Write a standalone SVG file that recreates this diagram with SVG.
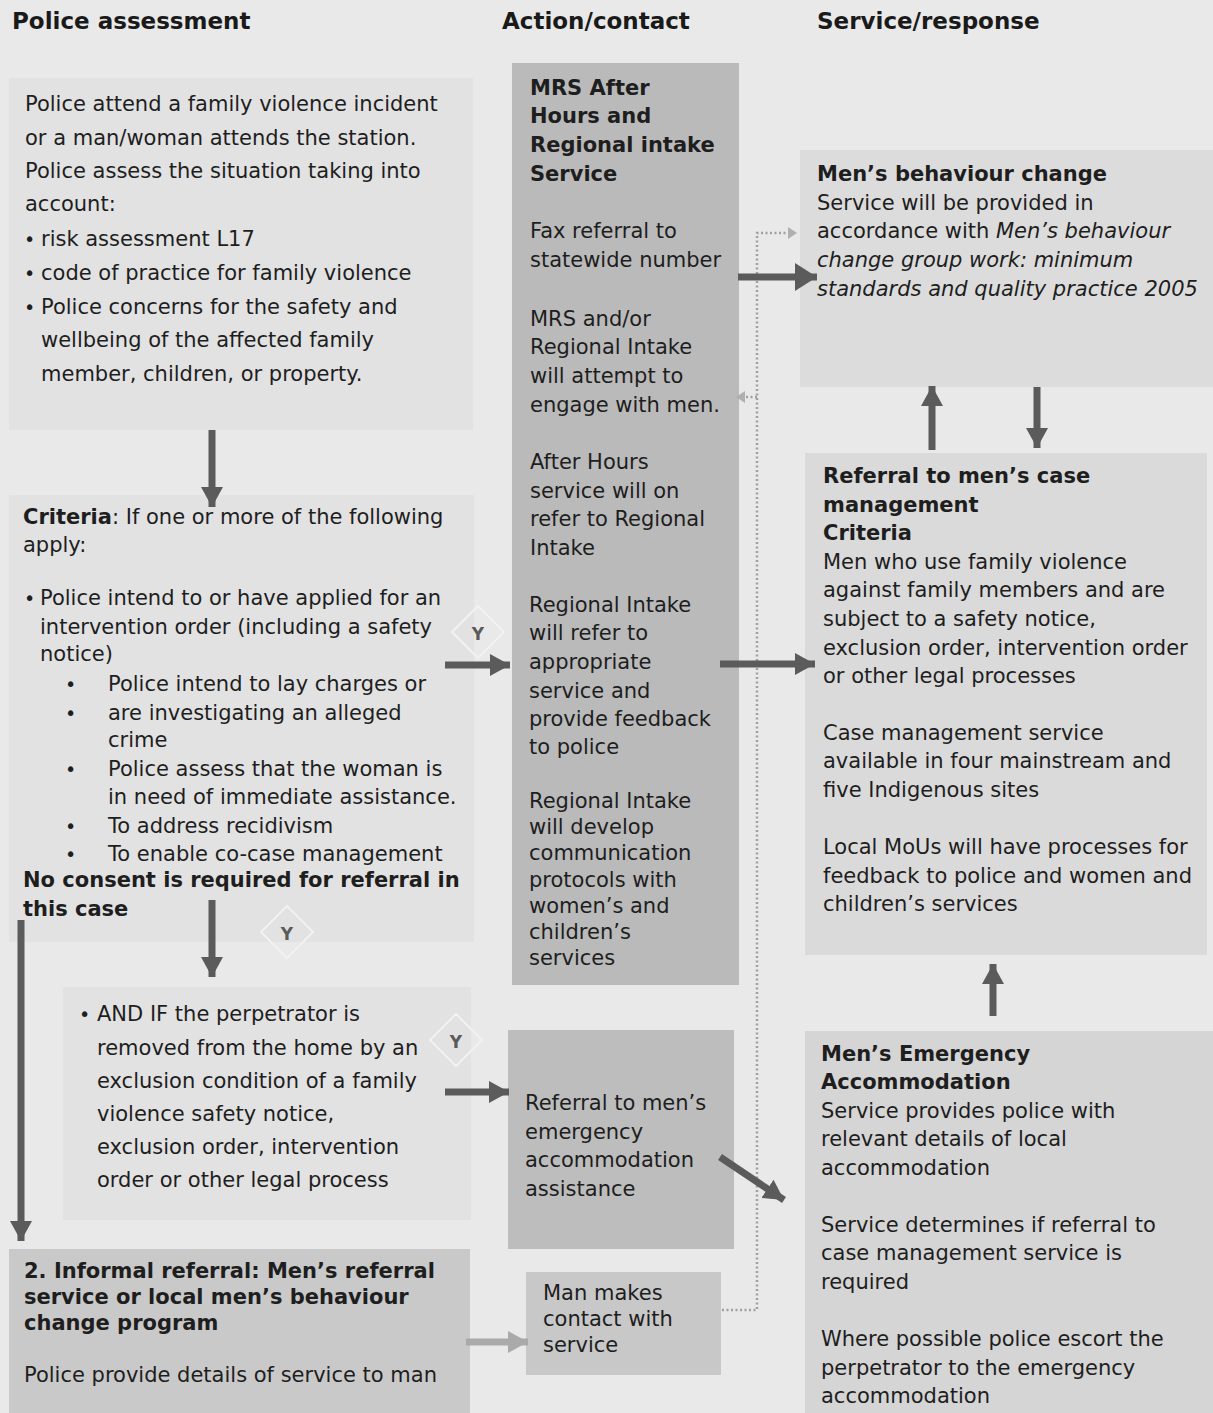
<svg xmlns="http://www.w3.org/2000/svg" width="1213" height="1413" viewBox="0 0 1213 1413">
<defs>
<style>
.t{font-family:"DejaVu Sans",Verdana,"Liberation Sans",sans-serif;font-size:21px;fill:#1e1e1e}
.b{font-weight:bold}
.i{font-style:italic}
.h{font-size:23px;font-weight:bold;fill:#1a1a1a}
.bu{font-size:19px}
.y{font-family:"DejaVu Sans",Verdana,sans-serif;font-size:17px;font-weight:bold;fill:#5a5a5a}
.dia{fill:none;stroke:#f2f2f2;stroke-width:2}
.ar{stroke:#5b5b5b;stroke-width:7;fill:none}
.arl{stroke:#aaaaaa;stroke-width:7;fill:none}
.dot{stroke:#a0a0a0;stroke-width:2.5;fill:none;stroke-dasharray:2 2.5}
</style>
<marker id="ah" markerUnits="userSpaceOnUse" markerWidth="22" markerHeight="22" refX="20" refY="11" orient="auto">
<path d="M0,0 L20,11 L0,22 z" fill="#5b5b5b"/>
</marker>
<marker id="ahb" markerUnits="userSpaceOnUse" markerWidth="24" markerHeight="28" refX="22" refY="14" orient="auto">
<path d="M0,0 L22,14 L0,28 z" fill="#5b5b5b"/>
</marker>
<marker id="ahl" markerUnits="userSpaceOnUse" markerWidth="22" markerHeight="22" refX="20" refY="11" orient="auto">
<path d="M0,0 L20,11 L0,22 z" fill="#aaaaaa"/>
</marker>
<marker id="ahd" markerUnits="userSpaceOnUse" markerWidth="10" markerHeight="12" refX="9" refY="6" orient="auto">
<path d="M0,0 L9,6 L0,12 z" fill="#b0b0b0"/>
</marker>
</defs>
<rect x="0" y="0" width="1213" height="1413" fill="#e9e9e9"/>

<g id="headers" class="t">
<text x="12" y="29" class="t h">Police assessment</text>
<text x="502" y="29" class="t h">Action/contact</text>
<text x="817" y="29" class="t h">Service/response</text>
</g>

<g id="police-attend">
<rect x="9" y="78" width="464" height="352" fill="#e2e2e2"/>
<text class="t" x="25" y="111">Police attend a family violence incident</text>
<text class="t" x="25" y="145">or a man/woman attends the station.</text>
<text class="t" x="25" y="178">Police assess the situation taking into</text>
<text class="t" x="25" y="211">account:</text>
<text class="t bu" x="24" y="246">•</text><text class="t" x="41" y="246">risk assessment L17</text>
<text class="t bu" x="24" y="280">•</text><text class="t" x="41" y="280">code of practice for family violence</text>
<text class="t bu" x="24" y="314">•</text><text class="t" x="41" y="314">Police concerns for the safety and</text>
<text class="t" x="41" y="347">wellbeing of the affected family</text>
<text class="t" x="41" y="381">member, children, or property.</text>
</g>

<g id="criteria">
<rect x="9" y="495" width="465" height="447" fill="#e2e2e2"/>
<text class="t" x="23" y="524"><tspan class="b">Criteria</tspan>: If one or more of the following</text>
<text class="t" x="23" y="552">apply:</text>
<text class="t bu" x="24" y="605">•</text><text class="t" x="40" y="605">Police intend to or have applied for an</text>
<text class="t" x="40" y="634">intervention order (including a safety</text>
<text class="t" x="40" y="661">notice)</text>
<text class="t bu" x="65" y="691">•</text><text class="t" x="108" y="691">Police intend to lay charges or</text>
<text class="t bu" x="65" y="720">•</text><text class="t" x="108" y="720">are investigating an alleged</text>
<text class="t" x="108" y="747">crime</text>
<text class="t bu" x="65" y="776">•</text><text class="t" x="108" y="776">Police assess that the woman is</text>
<text class="t" x="108" y="804">in need of immediate assistance.</text>
<text class="t bu" x="65" y="833">•</text><text class="t" x="108" y="833">To address recidivism</text>
<text class="t bu" x="65" y="861">•</text><text class="t" x="108" y="861">To enable co-case management</text>
<text class="t b" x="23" y="887">No consent is required for referral in</text>
<text class="t b" x="23" y="916">this case</text>
</g>

<g id="and-if">
<rect x="63" y="987" width="408" height="233" fill="#e2e2e2"/>
<text class="t bu" x="79" y="1021">•</text><text class="t" x="97" y="1021">AND IF the perpetrator is</text>
<text class="t" x="97" y="1055">removed from the home by an</text>
<text class="t" x="97" y="1088">exclusion condition of a family</text>
<text class="t" x="97" y="1121">violence safety notice,</text>
<text class="t" x="97" y="1154">exclusion order, intervention</text>
<text class="t" x="97" y="1187">order or other legal process</text>
</g>

<g id="informal-referral">
<rect x="9" y="1249" width="461" height="164" fill="#c9c9c9"/>
<text class="t b" x="24" y="1278">2. Informal referral: Men’s referral</text>
<text class="t b" x="24" y="1304">service or local men’s behaviour</text>
<text class="t b" x="24" y="1330">change program</text>
<text class="t" x="24" y="1382">Police provide details of service to man</text>
</g>

<g id="mrs-intake">
<rect x="512" y="63" width="227" height="922" fill="#bababa"/>
<text class="t b" x="530" y="95">MRS After</text>
<text class="t b" x="530" y="123">Hours and</text>
<text class="t b" x="530" y="152">Regional intake</text>
<text class="t b" x="530" y="181">Service</text>
<text class="t" x="530" y="238">Fax referral to</text>
<text class="t" x="530" y="267">statewide number</text>
<text class="t" x="530" y="326">MRS and/or</text>
<text class="t" x="530" y="354">Regional Intake</text>
<text class="t" x="530" y="383">will attempt to</text>
<text class="t" x="530" y="412">engage with men.</text>
<text class="t" x="530" y="469">After Hours</text>
<text class="t" x="530" y="498">service will on</text>
<text class="t" x="530" y="526">refer to Regional</text>
<text class="t" x="530" y="555">Intake</text>
<text class="t" x="529" y="612">Regional Intake</text>
<text class="t" x="529" y="640">will refer to</text>
<text class="t" x="529" y="669">appropriate</text>
<text class="t" x="529" y="698">service and</text>
<text class="t" x="529" y="726">provide feedback</text>
<text class="t" x="529" y="754">to police</text>
<text class="t" x="529" y="808">Regional Intake</text>
<text class="t" x="529" y="834">will develop</text>
<text class="t" x="529" y="860">communication</text>
<text class="t" x="529" y="887">protocols with</text>
<text class="t" x="529" y="913">women’s and</text>
<text class="t" x="529" y="939">children’s</text>
<text class="t" x="529" y="965">services</text>
</g>

<g id="referral-emergency">
<rect x="508" y="1030" width="226" height="219" fill="#bdbdbd"/>
<text class="t" x="525" y="1110">Referral to men’s</text>
<text class="t" x="525" y="1139">emergency</text>
<text class="t" x="525" y="1167">accommodation</text>
<text class="t" x="525" y="1196">assistance</text>
</g>

<g id="man-contact">
<rect x="526" y="1272" width="195" height="103" fill="#c8c8c8"/>
<text class="t" x="543" y="1300">Man makes</text>
<text class="t" x="543" y="1326">contact with</text>
<text class="t" x="543" y="1352">service</text>
</g>

<g id="behaviour-change">
<rect x="800" y="150" width="413" height="237" fill="#dcdcdc"/>
<text class="t b" x="817" y="181">Men’s behaviour change</text>
<text class="t" x="817" y="210">Service will be provided in</text>
<text class="t" x="817" y="238">accordance with <tspan class="i">Men’s behaviour</tspan></text>
<text class="t i" x="817" y="267">change group work: minimum</text>
<text class="t i" x="817" y="296">standards and quality practice 2005</text>
</g>

<g id="case-management">
<rect x="805" y="453" width="402" height="502" fill="#dadada"/>
<text class="t b" x="823" y="483">Referral to men’s case</text>
<text class="t b" x="823" y="512">management</text>
<text class="t b" x="823" y="540">Criteria</text>
<text class="t" x="823" y="569">Men who use family violence</text>
<text class="t" x="823" y="597">against family members and are</text>
<text class="t" x="823" y="626">subject to a safety notice,</text>
<text class="t" x="823" y="655">exclusion order, intervention order</text>
<text class="t" x="823" y="683">or other legal processes</text>
<text class="t" x="823" y="740">Case management service</text>
<text class="t" x="823" y="768">available in four mainstream and</text>
<text class="t" x="823" y="797">five Indigenous sites</text>
<text class="t" x="823" y="854">Local MoUs will have processes for</text>
<text class="t" x="823" y="883">feedback to police and women and</text>
<text class="t" x="823" y="911">children’s services</text>
</g>

<g id="emergency-accommodation">
<rect x="805" y="1031" width="408" height="382" fill="#d5d5d5"/>
<text class="t b" x="821" y="1061">Men’s Emergency</text>
<text class="t b" x="821" y="1089">Accommodation</text>
<text class="t" x="821" y="1118">Service provides police with</text>
<text class="t" x="821" y="1146">relevant details of local</text>
<text class="t" x="821" y="1175">accommodation</text>
<text class="t" x="821" y="1232">Service determines if referral to</text>
<text class="t" x="821" y="1260">case management service is</text>
<text class="t" x="821" y="1289">required</text>
<text class="t" x="821" y="1346">Where possible police escort the</text>
<text class="t" x="821" y="1375">perpetrator to the emergency</text>
<text class="t" x="821" y="1403">accommodation</text>
</g>

<g id="connectors">
<path class="dot" d="M722,1310 H757 V233 H797" marker-end="url(#ahd)"/>
<path class="dot" d="M757,397 H736" marker-end="url(#ahd)"/>
<line class="ar" x1="212" y1="430" x2="212" y2="507" marker-end="url(#ah)"/>
<line class="ar" x1="212" y1="900" x2="212" y2="977" marker-end="url(#ah)"/>
<line class="ar" x1="21" y1="920" x2="21" y2="1241" stroke-width="6" marker-end="url(#ah)"/>
<line class="ar" x1="445" y1="665" x2="510" y2="665" marker-end="url(#ah)"/>
<line class="ar" x1="738" y1="277" x2="817" y2="277" stroke-width="8" marker-end="url(#ahb)"/>
<line class="ar" x1="720" y1="664" x2="815" y2="664" marker-end="url(#ah)"/>
<line class="ar" x1="445" y1="1092" x2="509" y2="1092" marker-end="url(#ah)"/>
<line class="ar" x1="720" y1="1157" x2="784" y2="1200" marker-end="url(#ah)"/>
<line class="ar" x1="932" y1="450" x2="932" y2="386" marker-end="url(#ah)"/>
<line class="ar" x1="1037" y1="387" x2="1037" y2="448" marker-end="url(#ah)"/>
<line class="ar" x1="993" y1="1016" x2="993" y2="964" marker-end="url(#ah)"/>
<line class="arl" x1="466" y1="1342" x2="528" y2="1342" marker-end="url(#ahl)"/>
<g id="y-labels">
<polygon class="dia" points="478,606 504,632 478,658 452,632"/>
<text class="y" x="478" y="640" text-anchor="middle">Y</text>
<polygon class="dia" points="287,906 313,932 287,958 261,932"/>
<text class="y" x="287" y="940" text-anchor="middle">Y</text>
<polygon class="dia" points="456,1014 482,1040 456,1066 430,1040"/>
<text class="y" x="456" y="1048" text-anchor="middle">Y</text>
</g>
</g>
</svg>
